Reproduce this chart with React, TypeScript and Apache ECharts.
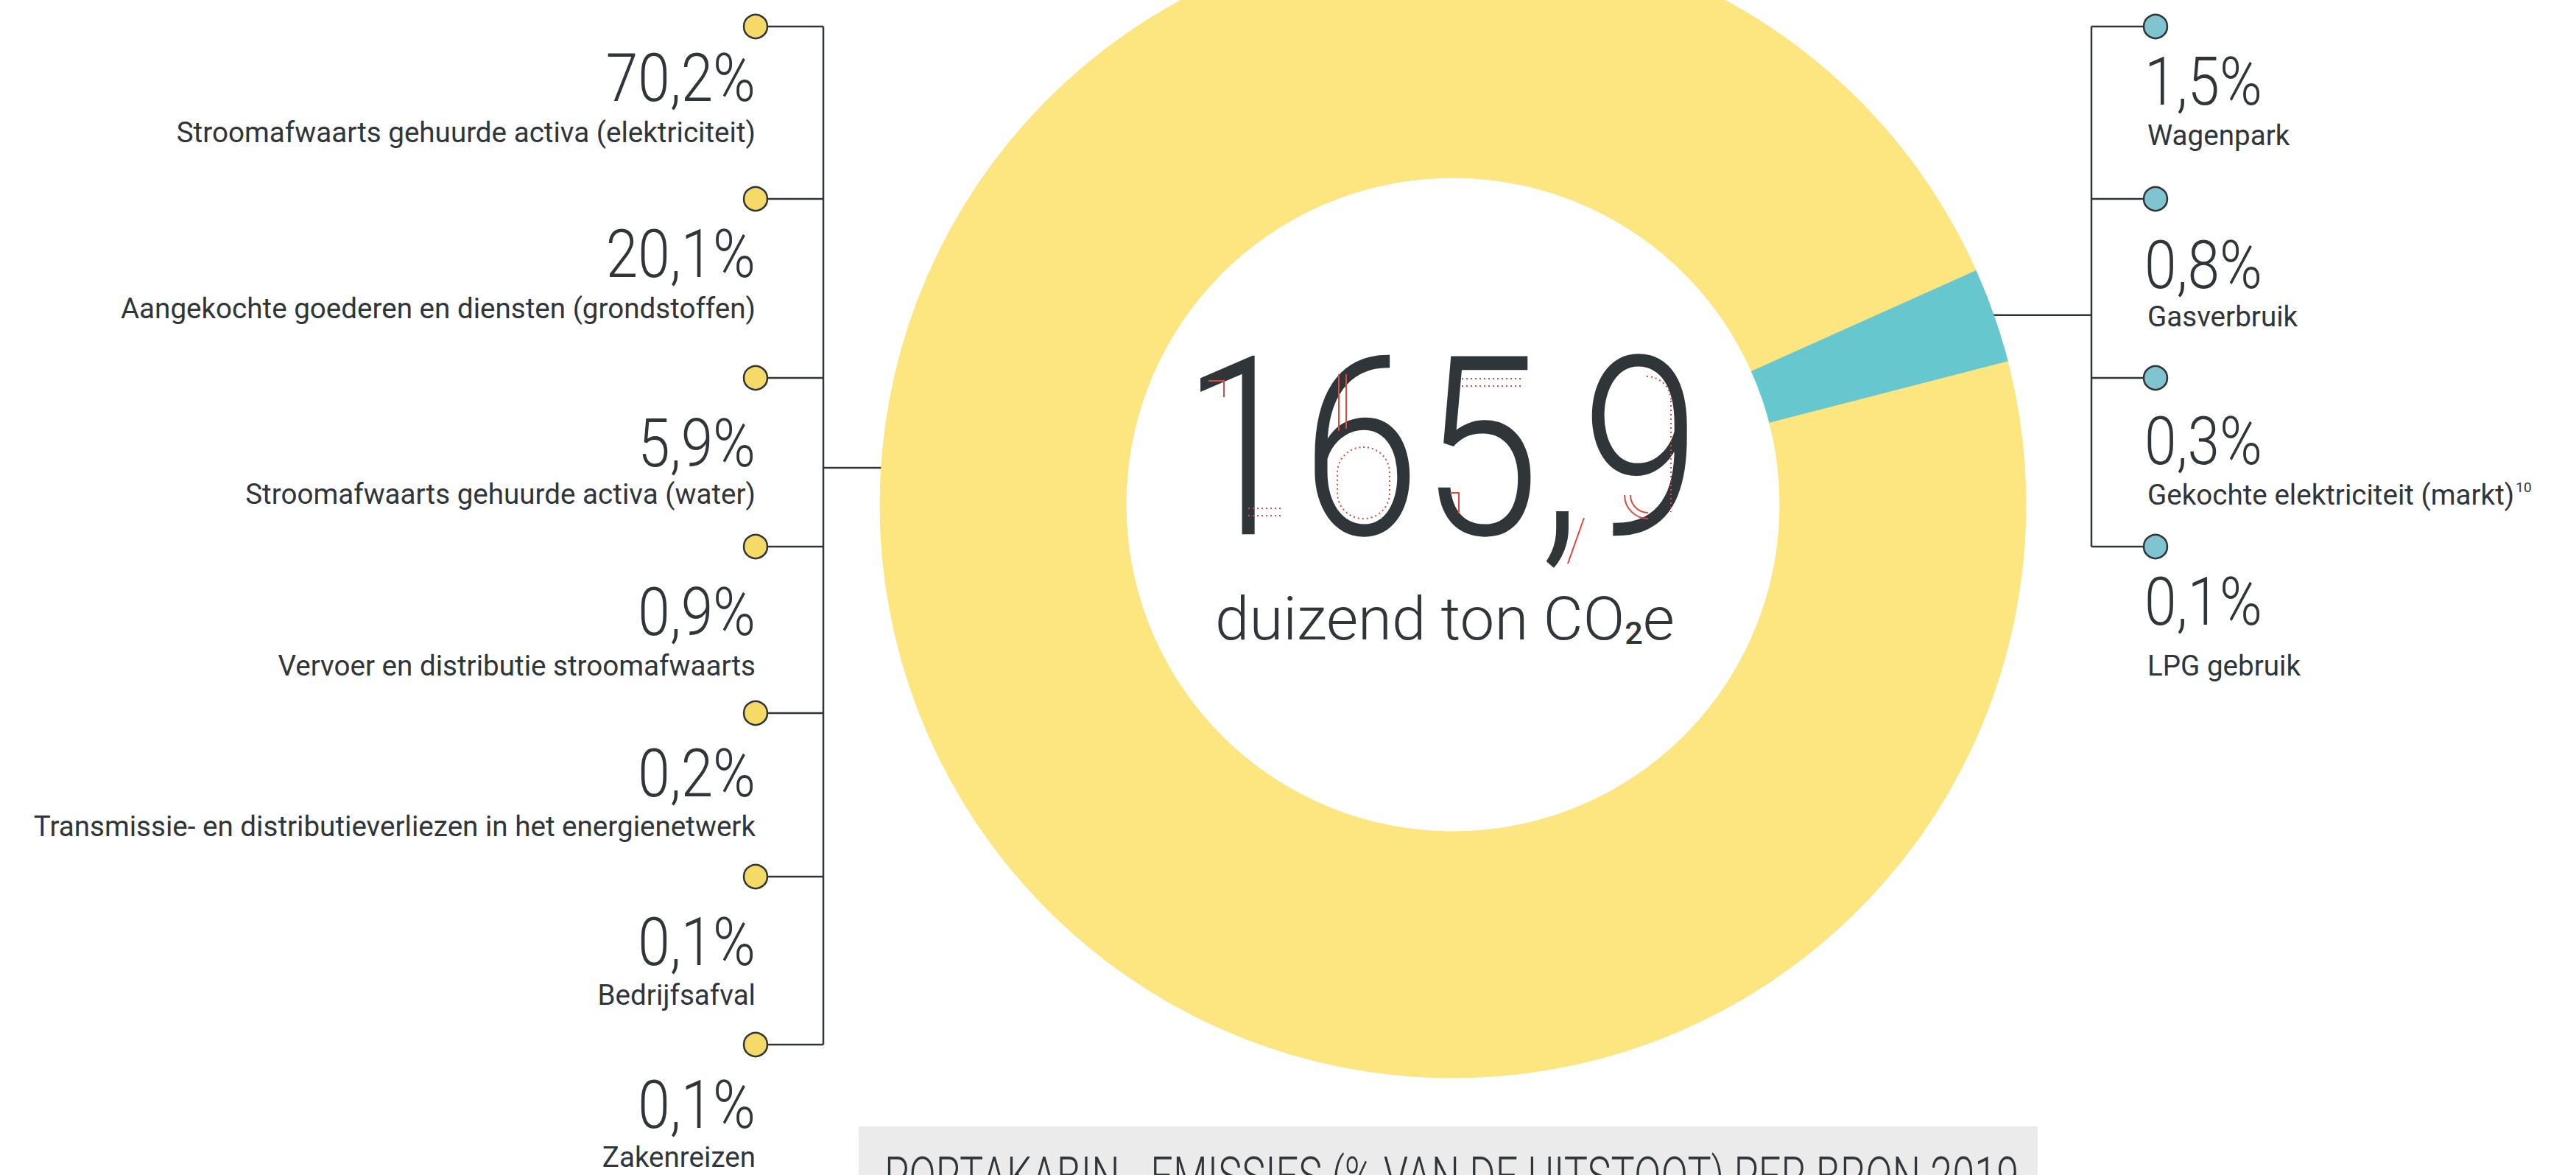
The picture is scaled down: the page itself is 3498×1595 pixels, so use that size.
import React, { useEffect, useRef } from "react";
import * as echarts from "echarts";

// ---------- DATA ----------
const yellowCategories = [
  "Stroomafwaarts gehuurde activa (elektriciteit)",
  "Aangekochte goederen en diensten (grondstoffen)",
  "Stroomafwaarts gehuurde activa (water)",
  "Vervoer en distributie stroomafwaarts",
  "Transmissie- en distributieverliezen in het energienetwerk",
  "Bedrijfsafval",
  "Zakenreizen",
];
const yellowValues = [70.2, 20.1, 5.9, 0.9, 0.2, 0.1, 0.1];

const tealCategories = ["Wagenpark", "Gasverbruik", "Gekochte elektriciteit (markt)", "LPG gebruik"];
const tealValues = [1.5, 0.8, 0.3, 0.1];
const tealFootnotes = ["", "", "10", ""];

const totalValue = "165,9";
const totalUnitMain = "duizend ton CO";
const totalUnitSub = "2";
const totalUnitEnd = "e";
const titleText = "PORTAKABIN - EMISSIES (% VAN DE UITSTOOT) PER BRON 2019";

// ---------- LAYOUT ----------
const W = 3498;
const H = 1595;
const CX = 1973;
const CY = 685;
const R_OUT = 778;
const R_IN = 444;
const TEAL_MID_ANGLE = 19.3; // degrees, counter-clockwise from east

const leftDotX = 1026;
const leftTrunkX = 1118;
const leftDotY = [36, 270, 513, 742, 968, 1190, 1418];
const leftPctBase = [139, 378, 635, 864, 1083, 1312, 1533];
const leftLblBase = [193, 432, 684, 917, 1135, 1364, 1584];
const leftConnectorY = 635;

const rightDotX = 2927;
const rightTrunkX = 2840;
const rightDotY = [36, 270, 513, 742];
const rightPctBase = [144, 393, 632, 850];
const rightLblBase = [197, 443, 685, 917];

const DARK = "#2f3538";
const YELLOW = "#fde580";
const TEAL = "#66c7cf";
const DOT_YELLOW = "#f6da68";
const DOT_TEAL = "#7fc4ce";
const RED = "#e4473c";
const FONT = "Roboto, 'Noto Sans', sans-serif";

const PCT_SIZE = 90;
const PCT_SCALE = 0.87;
const LBL_SIZE = 38.6;
const DOT_R = 16;

const fmtPct = (v: number) => v.toFixed(1).replace(".", ",") + "%";

export default function App() {
  const ref = useRef<HTMLDivElement>(null);

  useEffect(() => {
    if (!ref.current) return;
    const chart = echarts.init(ref.current, null, { renderer: "svg" });

    const sumAll = [...yellowValues, ...tealValues].reduce((a, b) => a + b, 0);
    const tealSum = tealValues.reduce((a, b) => a + b, 0);
    const tealSpan = (tealSum / sumAll) * 360;
    const startAngle = TEAL_MID_ANGLE + tealSpan / 2;

    const pieData = [
      ...tealCategories.map((n, i) => ({
        name: n,
        value: tealValues[i],
        itemStyle: { color: TEAL, borderColor: TEAL, borderWidth: 1 },
      })),
      ...yellowCategories.map((n, i) => ({
        name: n,
        value: yellowValues[i],
        itemStyle: { color: YELLOW, borderColor: YELLOW, borderWidth: 1 },
      })),
    ];

    const g: any[] = [];
    const line = (x1: number, y1: number, x2: number, y2: number, extra: any = {}) => ({
      type: "line",
      z: 1,
      silent: true,
      shape: { x1, y1, x2, y2 },
      style: { stroke: DARK, lineWidth: 2.5, ...extra },
    });

    // Left connectors
    g.push(line(leftTrunkX, leftDotY[0], leftTrunkX, leftDotY[leftDotY.length - 1]));
    const leftEdgeX = CX - Math.sqrt(R_OUT * R_OUT - (CY - leftConnectorY) ** 2);
    g.push(line(leftTrunkX, leftConnectorY, leftEdgeX + 10, leftConnectorY));
    leftDotY.forEach((y) => {
      g.push(line(leftDotX, y, leftTrunkX, y));
      g.push({
        type: "circle",
        z: 3,
        silent: true,
        shape: { cx: leftDotX, cy: y, r: DOT_R },
        style: { fill: DOT_YELLOW, stroke: DARK, lineWidth: 2.5 },
      });
    });

    // Right connectors
    g.push(line(rightTrunkX, rightDotY[0], rightTrunkX, rightDotY[rightDotY.length - 1]));
    const a = (TEAL_MID_ANGLE * Math.PI) / 180;
    const tealEdgeX = CX + R_OUT * Math.cos(a);
    const tealEdgeY = CY - R_OUT * Math.sin(a);
    g.push(line(tealEdgeX - 10, tealEdgeY, rightTrunkX, tealEdgeY));
    rightDotY.forEach((y) => {
      g.push(line(rightTrunkX, y, rightDotX, y));
      g.push({
        type: "circle",
        z: 3,
        silent: true,
        shape: { cx: rightDotX, cy: y, r: DOT_R },
        style: { fill: DOT_TEAL, stroke: DARK, lineWidth: 2.5 },
      });
    });

    const pctText = (txt: string, x: number, base: number, align: string) => ({
      type: "text",
      z: 5,
      silent: true,
      x,
      y: base - PCT_SIZE * 0.355,
      scaleX: PCT_SCALE,
      style: {
        text: txt,
        x: 0,
        y: 0,
        align,
        verticalAlign: "middle",
        fontFamily: FONT,
        fontWeight: 300,
        fontSize: PCT_SIZE,
        fill: DARK,
      },
    });
    const lblText = (txt: string, x: number, base: number, align: string, rich?: any) => ({
      type: "text",
      z: 5,
      silent: true,
      x,
      y: base - LBL_SIZE * 0.345,
      style: {
        text: txt,
        x: 0,
        y: 0,
        align,
        verticalAlign: "middle",
        fontFamily: FONT,
        fontWeight: 400,
        fontSize: LBL_SIZE,
        fill: DARK,
        rich,
      },
    });

    yellowCategories.forEach((n, i) => {
      g.push(pctText(fmtPct(yellowValues[i]), leftDotX, leftPctBase[i], "right"));
      g.push(lblText(n, leftDotX, leftLblBase[i], "right"));
    });
    tealCategories.forEach((n, i) => {
      g.push(pctText(fmtPct(tealValues[i]), rightDotX - 15, rightPctBase[i], "left"));
      if (tealFootnotes[i]) {
        g.push(
          lblText(`{m|${n}}{s|${tealFootnotes[i]}}`, rightDotX - 11, rightLblBase[i], "left", {
            m: { fontFamily: FONT, fontSize: LBL_SIZE, lineHeight: 40, fill: DARK },
            s: { fontFamily: FONT, fontSize: 19, lineHeight: 26, verticalAlign: "top", fill: DARK, padding: [0, 0, 0, 2] },
          })
        );
      } else {
        g.push(lblText(n, rightDotX - 11, rightLblBase[i], "left"));
      }
    });

    // Centre total
    g.push({
      type: "text",
      z: 5,
      silent: true,
      x: 1957,
      y: 609,
      scaleX: 0.86,
      style: {
        text: totalValue,
        x: 0,
        y: 0,
        align: "center",
        verticalAlign: "middle",
        fontFamily: FONT,
        fontWeight: 300,
        fontSize: 340,
        fill: DARK,
      },
    });
    g.push({
      type: "text",
      z: 5,
      silent: true,
      x: 1962,
      y: 840,
      scaleX: 1.03,
      style: {
        text: `{m|${totalUnitMain}}{s|${totalUnitSub}}{m|${totalUnitEnd}}`,
        x: 0,
        y: 0,
        align: "center",
        verticalAlign: "middle",
        rich: {
          m: { fontFamily: FONT, fontWeight: 300, fontSize: 81, lineHeight: 80, fill: DARK },
          s: { fontFamily: FONT, fontWeight: 500, fontSize: 42, lineHeight: 36, verticalAlign: "bottom", fill: DARK },
        },
      },
    });

    // Red construction marks on the big number
    const dot = { stroke: RED, lineWidth: 2, lineDash: [2, 4] };
    const sol = { stroke: RED, lineWidth: 2 };
    const deco: any[] = [
      { type: "polyline", shape: { points: [[1641, 517], [1662, 517], [1662, 539]] }, style: { ...sol, fill: null } },
      { type: "line", shape: { x1: 1695, y1: 690, x2: 1740, y2: 690 }, style: dot },
      { type: "line", shape: { x1: 1695, y1: 700, x2: 1740, y2: 700 }, style: dot },
      { type: "line", shape: { x1: 1818, y1: 508, x2: 1818, y2: 585 }, style: sol },
      { type: "line", shape: { x1: 1828, y1: 508, x2: 1828, y2: 582 }, style: sol },
      { type: "rect", shape: { x: 1816, y: 607, width: 71, height: 97, r: 35 }, style: { ...dot, fill: null } },
      { type: "line", shape: { x1: 1985, y1: 514, x2: 2066, y2: 514 }, style: dot },
      { type: "line", shape: { x1: 1985, y1: 524, x2: 2066, y2: 524 }, style: dot },
      { type: "polyline", shape: { points: [[1969, 669], [1981, 669], [1981, 697]] }, style: { ...sol, fill: null } },
      { type: "line", shape: { x1: 2151, y1: 703, x2: 2129, y2: 765 }, style: sol },
      { type: "arc", shape: { cx: 2236, cy: 544, r: 33, startAngle: -Math.PI / 2, endAngle: 0 }, style: { ...dot, fill: null } },
      { type: "line", shape: { x1: 2269, y1: 544, x2: 2269, y2: 695 }, style: dot },
      { type: "arc", shape: { cx: 2238, cy: 672, r: 24, startAngle: Math.PI / 2, endAngle: Math.PI }, style: { ...sol, fill: null } },
      { type: "arc", shape: { cx: 2238, cy: 672, r: 32, startAngle: Math.PI / 2, endAngle: Math.PI }, style: { ...sol, fill: null } },
    ];
    deco.forEach((d) => g.push({ ...d, z: 6, silent: true }));

    // Bottom title box
    g.push({
      type: "rect",
      z: 4,
      silent: true,
      shape: { x: 1166, y: 1529, width: 1601, height: 100 },
      style: { fill: "#ebebeb" },
    });
    g.push({
      type: "text",
      z: 5,
      silent: true,
      x: 1201,
      y: 1572 + 0.355 * 72,
      scaleX: 0.75,
      style: {
        text: titleText,
        x: 0,
        y: 0,
        align: "left",
        verticalAlign: "middle",
        fontFamily: FONT,
        fontWeight: 300,
        fontSize: 72,
        fill: DARK,
      },
    });

    chart.setOption({
      animation: false,
      backgroundColor: "#ffffff",
      series: [
        {
          type: "pie",
          center: [CX, CY],
          radius: [R_IN, R_OUT],
          startAngle,
          clockwise: true,
          silent: true,
          z: 2,
          avoidLabelOverlap: false,
          label: { show: false },
          labelLine: { show: false },
          emphasis: { disabled: true },
          data: pieData,
        },
      ],
      graphic: { elements: g },
    });

    return () => chart.dispose();
  }, []);

  return (
    <div
      ref={ref}
      style={{ position: "fixed", left: 0, top: 0, width: W, height: H, background: "#fff" }}
    />
  );
}
